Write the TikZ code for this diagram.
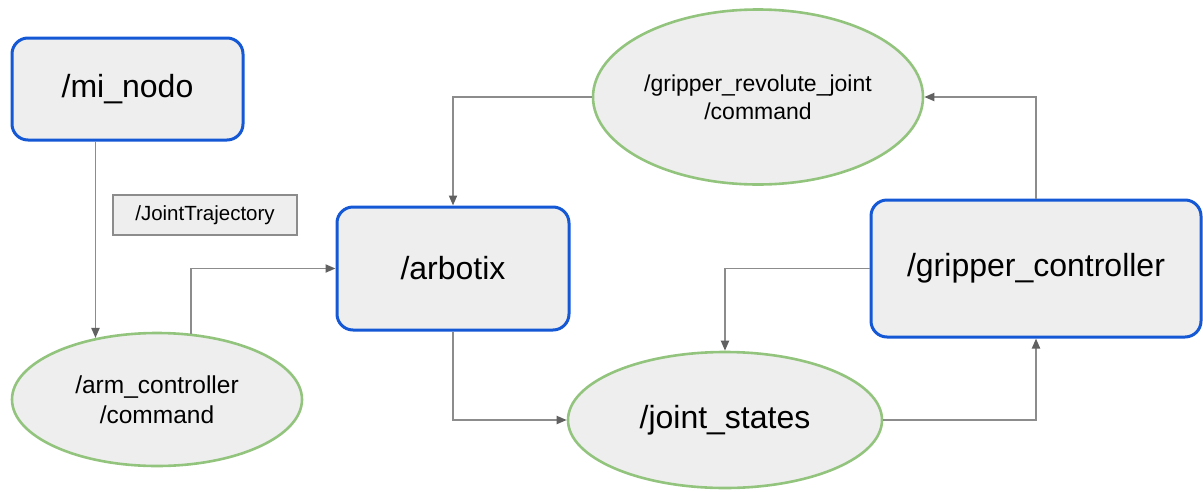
\documentclass[tikz,border=0pt]{standalone}
\usepackage{fontspec}
\setmainfont{Liberation Sans}
\usepackage{tikz}
\usetikzlibrary{arrows.meta}
\usetikzlibrary{shapes.geometric}
\definecolor{RosBlue}{HTML}{1558D6}
\definecolor{TopicGreen}{HTML}{93C47D}
\definecolor{BoxGray}{HTML}{EEEEEE}
\definecolor{LinkGray}{HTML}{8C8C8C}
\tikzset{
  rosnode/.style={draw=RosBlue, line width=3pt, fill=BoxGray, rounded corners=16pt, inner sep=0pt, font=\fontsize{32}{36}\selectfont},
  rostopic/.style={draw=TopicGreen, line width=2.6pt, fill=BoxGray, ellipse, inner sep=0pt, align=center},
  msglabel/.style={draw=black!45, line width=1.2pt, fill=BoxGray, inner sep=0pt, font=\fontsize{20.5}{24}\selectfont},
  link/.style={draw=LinkGray, line width=1.9pt, -{Triangle[length=10pt,width=8pt,color=black!62]}}
}

\begin{document}
\begin{tikzpicture}[x=1pt,y=-1pt]
\useasboundingbox (0,0) rectangle (1203,491);

%%Nodes
\node[rosnode, minimum width=231pt, minimum height=102pt] (minodo) at (127.5,89) {/mi\_nodo};
\node[rosnode, minimum width=232pt, minimum height=123pt] (arbotix) at (453,268.5) {/arbotix};
\node[rosnode, minimum width=330pt, minimum height=137pt] (grctrl) at (1036,268.5) {/gripper\_controller};

%%Topics
\node[rostopic, minimum width=290pt, minimum height=133pt, font=\fontsize{24.5}{30}\selectfont] (armcmd) at (157,399.5) {/arm\_controller\\/command};
\node[rostopic, minimum width=330pt, minimum height=175pt, font=\fontsize{23}{28}\selectfont] (grjoint) at (758,97) {/gripper\_revolute\_joint\\/command};
\node[rostopic, minimum width=314pt, minimum height=136pt, font=\fontsize{32}{36}\selectfont] (jstates) at (725,420) {/joint\_states};

\node[msglabel, minimum width=184pt, minimum height=40pt] (jtraj) at (205,215) {/JointTrajectory};

%%Links
\draw[link] (minodo.south -| armcmd.135) -- (armcmd.135);
\draw[link] (armcmd.63) |- (arbotix.west);
\draw[link] (grjoint.west) -| (arbotix.north);
\draw[link] (arbotix.south) |- (jstates.west);
\draw[link] (jstates.east) -| (grctrl.south);
\draw[link] (grctrl.north) |- (grjoint.east);
\draw[link] (grctrl.west) -| (jstates.north);

\end{tikzpicture}
\end{document}
